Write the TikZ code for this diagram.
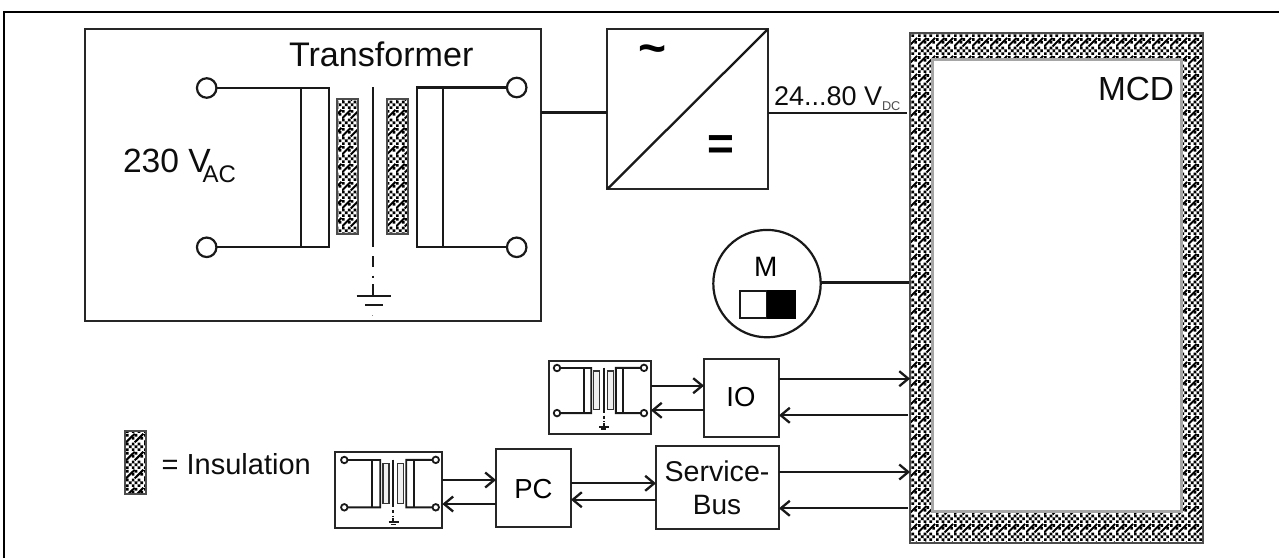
\documentclass[tikz,border=0pt]{standalone}
\usepackage{fontspec}
\setmainfont{Liberation Sans}
\usetikzlibrary{arrows.meta,patterns}
\newcommand{\fsz}[1]{\fontsize{#1}{#1}\selectfont}
\pgfdeclarepatternformonly{insulhatch}{\pgfqpoint{0pt}{0pt}}{\pgfqpoint{18pt}{18pt}}{\pgfqpoint{18pt}{18pt}}{%
  \foreach \i/\j in {0/0,6/0,12/0,3/3,9/3,15/3,0/6,6/6,12/6,6/12,15/12,0/15,9/15}{%
    \pgfpathrectangle{\pgfpoint{\i pt}{\j pt}}{\pgfqpoint{2.8pt}{2.8pt}}}%
  \pgfusepath{fill}%
  \pgfsetlinewidth{2.1pt}%
  \pgfpathmoveto{\pgfqpoint{0pt}{9pt}}\pgfpathlineto{\pgfqpoint{9pt}{18pt}}%
  \pgfpathmoveto{\pgfqpoint{9pt}{9pt}}\pgfpathlineto{\pgfqpoint{18pt}{18pt}}%
  \pgfusepath{stroke}%
}
\tikzset{
  wire/.style={line width=2.3pt,draw=black!90},
  box/.style={draw=black!85,line width=2.2pt,inner sep=0pt,outer sep=0pt,align=center},
  insul/.style={draw=black!70,line width=1.8pt,pattern=insulhatch,pattern color=black,preaction={fill=white}},
  insulsmall/.style={draw=black!80,line width=1.6pt,fill=black!6},
  lbl/.style={inner sep=0pt,outer sep=0pt,anchor=base west,text=black!95},
  arr/.style={wire,-{Straight Barb[length=9pt,width=15pt,line width=2.3pt]}},
  term/.style={circle,draw=black!90,fill=white,line width=2.2pt,inner sep=0pt,outer sep=0pt,minimum size=19.5pt},
  smallterm/.style={circle,draw=black!90,fill=white,line width=1.8pt,inner sep=0pt,outer sep=0pt,minimum size=6.5pt},
}
% #1 name prefix, #2 scope options, #3 terminal style, #4 bar style, #5 wire width
\newcommand{\xfmr}[5]{%
 \begin{scope}[#2]
  \node[#3] (#1tl) at (206.7,88) {};
  \node[#3] (#1bl) at (206.7,247.3) {};
  \node[#3] (#1tr) at (516.7,87.5) {};
  \node[#3] (#1br) at (516.7,247.3) {};
  \begin{scope}[draw=black!90,line width=#5]
   \draw (#1tl) -- (#1tl -| 328.7,0) -- (328.7,247.3) -- (#1bl);
   \draw (301.3,88) -- (301.3,247.3);
   \draw (#1tr) -- (#1tr -| 416.7,0) -- (416.7,247.3) -- (#1br);
   \draw (443.3,87.5) -- (443.3,247.3);
   \draw (372.7,87) -- (372.7,246.7);
   \draw (372.7,256) -- (372.7,267);
   \draw (372.7,275.5) -- (372.7,278);
   \draw (372.7,284) -- (372.7,296);
   \draw (356.7,296) -- (390.7,296);
   \draw (365,305) -- (383,305);
  \end{scope}
  \path[#4] (337.3,99.3) rectangle (358.3,234);
  \path[#4] (387.3,99.3) rectangle (408,234);
 \end{scope}}
\begin{document}
\begin{tikzpicture}[x=1pt,y=-1pt]
\useasboundingbox (0,0) rectangle (1279,558);
% outer frame
\draw[line width=2.5pt,black] (4.2,558) -- (4.2,12) -- (1279,12);
% main blocks
\node[box,minimum width=456pt,minimum height=291.7pt] (trafo) at (312.7,175.2) {};
\node[box,minimum width=160.4pt,minimum height=159.7pt] (conv) at (687.5,109.2) {};
\node[inner sep=0pt,outer sep=0pt,minimum width=292.7pt,minimum height=510pt,insul] (mcd) at (1056.4,287.7) {};
\node[draw=black!35,fill=white,line width=3pt,inner sep=0pt,outer sep=0pt,minimum width=248.3pt,minimum height=452.4pt] (mcdin) at (1056.9,285.5) {};
\xfmr{a}{}{term}{insul}{2.3pt}
\fill[black!45] (372.2,314.5) rectangle (373.2,315.5);
% converter
\draw[line width=2.3pt,black!90] (conv.south west) -- (conv.north east);
\node[inner sep=0pt,text=black] (tilde) at (653,55) {\fsz{48}\bfseries\char"7E};
\node[inner sep=0pt,text=black] (equal) at (721,148) {\fsz{46}\bfseries =};
\draw[wire] (trafo.east |- 0,112.5) -- (conv.west |- 0,112.5);
\draw[wire] (conv.east |- 0,113) -- (907.3,113);
% labels
\node[lbl] (ltrafo) at (289,66.7) {\fsz{34.1}Transformer};
\node[lbl] (l230) at (123,172.7) {\fsz{33.6}230 V};
\node[lbl] (lac) at (202.7,182.7) {\fsz{24}AC};
\node[lbl] (l24) at (774,105) {\fsz{27}24...80 V};
\node[lbl,text=black!70] (ldc) at (882,110) {\fsz{12.7}DC};
\node[lbl] (lmcd) at (1098,100) {\fsz{33.4}MCD};
% motor
\node[circle,draw=black!90,line width=2.2pt,inner sep=0pt,outer sep=0pt,minimum size=107.4pt,fill=white] (motor) at (767,283.6) {};
\node[inner sep=0pt,anchor=base] (lm) at (765.7,276) {\fsz{28}M};
\draw[line width=2.2pt,black!90,fill=white] (740.3,290.7) rectangle (767.3,318.3);
\fill[black] (767.3,289.7) rectangle (796,319.3);
\draw[wire] (motor.east |- 0,282.5) -- (909,282.5);
% lower boxes
\node[box,minimum width=75pt,minimum height=78pt] (io) at (741.5,398) {};
\node[inner sep=0pt] (lio) at (741,397) {\fsz{27.5}IO};
\node[box,minimum width=123pt,minimum height=83pt] (sb) at (717.5,487.5) {};
\node[lbl,anchor=base] (lsb1) at (717,481.7) {\fsz{28.6}Service-};
\node[lbl,anchor=base] (lsb2) at (717,514) {\fsz{28}Bus};
\node[box,minimum width=75pt,minimum height=78pt] (pc) at (533.5,488) {};
\node[inner sep=0pt] (lpc) at (533.5,489) {\fsz{27.5}PC};
% small transformers
\node[box,minimum width=102.3pt,minimum height=73.6pt] (t1) at (599.8,397.5) {};
\node[box,minimum width=107.3pt,minimum height=76pt] (t2) at (388.7,489.7) {};
\xfmr{b}{shift={(557,368)},xscale=0.2806,yscale=0.283,shift={(-206.7,-88)}}{smallterm}{insulsmall}{1.9pt}
\xfmr{c}{shift={(344.3,460)},xscale=0.295,yscale=0.297,shift={(-206.7,-88)}}{smallterm}{insulsmall}{1.9pt}
% arrows
\draw[arr] (io.east |- 0,378.7) -- (mcd.west |- 0,378.7);
\draw[arr] (mcd.west |- 0,415.3) ++(-2,0) -- (io.east |- 0,415.3);
\draw[arr] (sb.east |- 0,472) -- (mcd.west |- 0,472);
\draw[arr] (mcd.west |- 0,508.3) ++(-2,0) -- (sb.east |- 0,508.3);
\draw[arr] (t1.east |- 0,385.7) -- (io.west |- 0,385.7);
\draw[arr] (io.west |- 0,410.3) -- (t1.east |- 0,410.3);
\draw[arr] (pc.east |- 0,483.3) -- (sb.west |- 0,483.3);
\draw[arr] (sb.west |- 0,499.7) -- (pc.east |- 0,499.7);
\draw[arr] (t2.east |- 0,480) -- (pc.west |- 0,480);
\draw[arr] (pc.west |- 0,504) -- (t2.east |- 0,504);
% legend
\path[insul] (124.7,430.7) rectangle (146,494.3);
\node[lbl] (lins) at (161.7,474) {\fsz{29}= Insulation};
\end{tikzpicture}
\end{document}
